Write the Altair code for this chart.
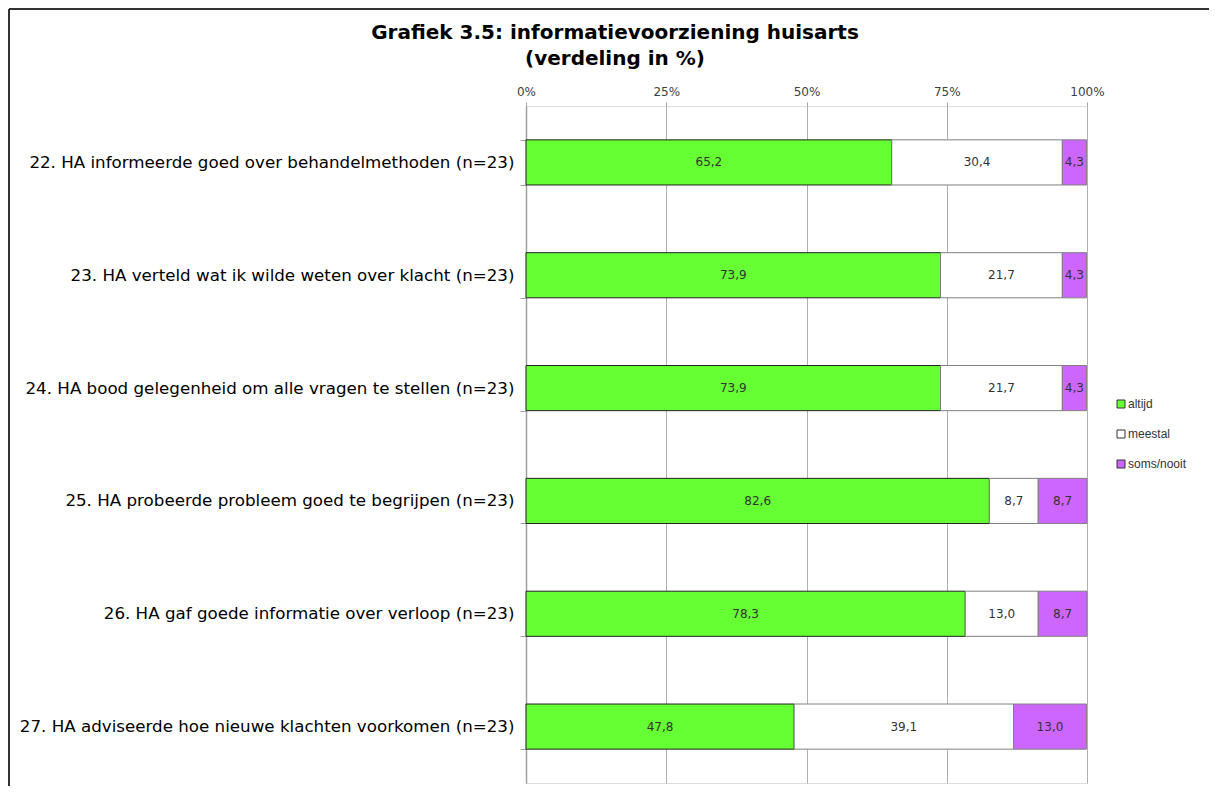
import altair as alt
import pandas as pd

questions = [
    "22. HA informeerde goed over behandelmethoden (n=23)",
    "23. HA verteld wat ik wilde weten over klacht (n=23)",
    "24. HA bood gelegenheid om alle vragen te stellen (n=23)",
    "25. HA probeerde probleem goed te begrijpen (n=23)",
    "26. HA gaf goede informatie over verloop (n=23)",
    "27. HA adviseerde hoe nieuwe klachten voorkomen (n=23)",
]
series = ["altijd", "meestal", "soms/nooit"]
altijd = [65.2, 73.9, 73.9, 82.6, 78.3, 47.8]
meestal = [30.4, 21.7, 21.7, 8.7, 13.0, 39.1]
soms_nooit = [4.3, 4.3, 4.3, 8.7, 8.7, 13.0]
colors = ["#66FF33", "#FFFFFF", "#CC66FF"]
x_ticks = [0, 25, 50, 75, 100]
title_lines = ["Grafiek 3.5: informatievoorziening huisarts", "(verdeling in %)"]

rows = []
for i, q in enumerate(questions):
    for k, (s, vals) in enumerate(zip(series, [altijd, meestal, soms_nooit])):
        v = vals[i]
        rows.append({"q": q, "serie": s, "order": k, "value": v,
                     "label": f"{v:.1f}".replace(".", ",")})
df = pd.DataFrame(rows)

base = alt.Chart(df).transform_stack(
    stack="value", as_=["x0", "x1"], groupby=["q"], sort=[{"field": "order"}]
).transform_calculate(mid="(datum.x0 + datum.x1) / 2")

y_enc = alt.Y("q:N", sort=questions, title=None,
              scale=alt.Scale(paddingInner=0.6, paddingOuter=0.3),
              axis=alt.Axis(tickBand="extent", labelFont="DejaVu Sans", labelFontSize=16.7,
                            labelColor="#000000", labelLimit=700, labelPadding=6,
                            tickSize=6, tickColor="#a0a0a0", domainColor="#a0a0a0",
                            domainWidth=1.5, grid=False))

bars = base.mark_bar(strokeWidth=1).encode(
    x=alt.X("x0:Q", scale=alt.Scale(domain=[0, 100], nice=False), title=None,
            axis=alt.Axis(orient="top", values=x_ticks, labelExpr="datum.value + '%'",
                          labelFont="DejaVu Sans", labelFontSize=12, labelColor="#404040",
                          labelFlush=False,
                          tickSize=4, tickColor="#a0a0a0", labelPadding=4,
                          domain=False, gridColor="#b0b0b0", gridWidth=1)),
    x2="x1:Q",
    y=y_enc,
    color=alt.Color("serie:N", sort=series,
                    scale=alt.Scale(domain=series, range=colors),
                    legend=alt.Legend(title=None, orient="none", legendX=589, legendY=292,
                                      symbolType="square", symbolSize=64,
                                      symbolStrokeColor="#333333", symbolStrokeWidth=1,
                                      labelFont="Liberation Sans", labelFontSize=12,
                                      labelColor="#333333", rowPadding=18, labelOffset=1)),
    stroke=alt.condition("datum.serie == 'altijd'", alt.value("#222222"), alt.value("#808080")),
    order=alt.Order("order:Q"),
)

texts = base.mark_text(font="DejaVu Sans", fontSize=12, color="#333333").encode(
    x="mid:Q",
    y=alt.Y("q:N", sort=questions),
    text="label:N",
)

title_df = pd.DataFrame({"t": ["\n".join(title_lines)]})
title = alt.Chart(title_df).mark_text(
    font="DejaVu Sans", fontSize=20, fontWeight="bold", color="#000000",
    align="center", baseline="alphabetic", lineBreak="\n", lineHeight=26,
).encode(x=alt.value(89), y=alt.value(-67), text="t:N")

frame = pd.DataFrame({"a": [0]})
left_rule = alt.Chart(frame).mark_rule(color="#333333", strokeWidth=2).encode(
    x=alt.value(-517), y=alt.value(-97), y2=alt.value(680))
top_rule = alt.Chart(frame).mark_rule(color="#333333", strokeWidth=2).encode(
    x=alt.value(-517), x2=alt.value(683), y=alt.value(-97))

chart = alt.layer(bars, texts, title, left_rule, top_rule).properties(
    width=561, height=677,
    padding={"left": 0, "top": 0, "right": 0, "bottom": 0},
).configure_view(stroke="#808080", strokeWidth=1).configure(background="white")

chart.save("out.html", embed_options={"renderer": "svg", "actions": False})
